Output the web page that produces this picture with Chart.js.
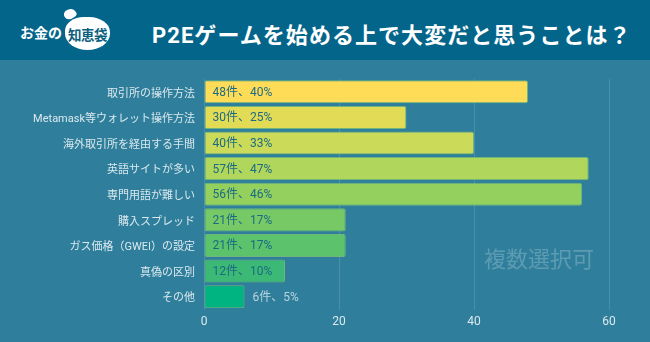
<!DOCTYPE html>
<html lang="ja">
<head>
<meta charset="utf-8">
<script src="https://cdn.jsdelivr.net/npm/chart.js@4"></script>
<style>
    body { margin: 0; width: 650px; height: 342px; overflow: hidden; background: #2f7f9c; font-family: "Roboto", "Noto Sans CJK JP", sans-serif; }
    #cabecalho { position: absolute; left: 0; top: 0; width: 650px; height: 60px; background: #03658a; }
    #logo { position: absolute; left: 20px; top: 22px; color: #fff; font-weight: bold; font-size: 14px; }
    #saco { position: absolute; left: 65px; top: 17px; width: 45px; height: 33px; background: #fff; border-radius: 42% 46% 50% 50%; }
    #saco span { position: absolute; left: 0; top: 7px; width: 45px; text-align: center; color: #0b5f7e; font-weight: bold; font-size: 13.5px; letter-spacing: -0.5px; }
    #laco { position: absolute; left: 64px; top: 9px; width: 12px; height: 10px; background: #fff; border-radius: 40% 60% 30% 50%; transform: rotate(-35deg); }
    #titulo { position: absolute; left: 152px; top: 17px; color: #fff; font-weight: bold; font-size: 22px; letter-spacing: 1.05px; white-space: nowrap; }
    #grafico { position: absolute; left: 0; top: 60px; width: 650px; height: 282px; }
    #marca { position: absolute; left: 484px; top: 241px; color: rgba(255,255,255,0.22); font-size: 22px; white-space: nowrap; }
</style>
</head>
<body>
<div id="cabecalho">
    <div id="logo">お金の</div>
    <div id="laco"></div>
    <div id="saco"><span>知恵袋</span></div>
    <div id="titulo">P2Eゲームを始める上で大変だと思うことは？</div>
</div>
<div id="grafico"><canvas id="myChart"></canvas></div>
<div id="marca">複数選択可</div>

<script>
const categorias = ['取引所の操作方法', 'Metamask等ウォレット操作方法', '海外取引所を経由する手間', '英語サイトが多い',
    '専門用語が難しい', '購入スプレッド', 'ガス価格（GWEI）の設定', '真偽の区別', 'その他'];
const quantidades = [48, 30, 40, 57, 56, 21, 21, 12, 6];
const porcentagens = [40, 25, 33, 47, 46, 17, 17, 10, 5];
const ticksX = [0, 20, 40, 60];

const cores = ['#ffdc58', '#e2db56', '#cbda58', '#b0d65b', '#93d05e', '#76c965', '#5cc26b', '#3cb974', '#00b482'];

// escreve "N件、P%" dentro da barra, ou fora quando não cabe
const rotulos = {
    id: 'rotulos',
    afterDatasetsDraw(chart) {
        const ctx = chart.ctx;
        const meta = chart.getDatasetMeta(0);
        ctx.save();
        ctx.font = '12px Roboto, "Noto Sans CJK JP"';
        ctx.textBaseline = 'middle';
        ctx.textAlign = 'left';
        meta.data.forEach((barra, i) => {
            let texto = quantidades[i] + '件、' + porcentagens[i] + '%';
            let largura = ctx.measureText(texto).width;
            if (largura + 16 < barra.x - barra.base) {
                ctx.fillStyle = '#1c6a85';
                ctx.fillText(texto, barra.base + 8, barra.y + 1);
            } else {
                ctx.fillStyle = 'rgba(225,238,243,0.75)';
                ctx.fillText(texto, barra.x + 8, barra.y + 1);
            }
        });
        ctx.restore();
    }
};

const ctx1 = document.getElementById('myChart');

new Chart(ctx1, {
    type: 'bar',
    data: {
        labels: categorias,
        datasets: [
            {
                data: quantidades,
                backgroundColor: cores,
                borderColor: 'rgba(140,205,110,0.7)',
                borderWidth: 1,
                borderRadius: 2,
                borderSkipped: false,
                barPercentage: 0.9,
                categoryPercentage: 1
            }
        ]
    },
    options: {
        indexAxis: 'y',
        responsive: true,
        maintainAspectRatio: false,
        animation: false,
        layout: { padding: { top: 19, right: 41, left: 0, bottom: 0 } },
        plugins: { legend: { display: false }, tooltip: { enabled: false } },
        scales: {
            x: {
                min: 0,
                max: 60,
                afterBuildTicks: (scale) => { scale.ticks = ticksX.map(v => ({ value: v })); },
                afterFit: (scale) => { scale.height = 32.5; },
                grid: { color: 'rgba(255,255,255,0.13)', drawTicks: false },
                border: { display: false },
                ticks: { color: '#dbe9ee', padding: 5, font: { size: 12, family: 'Roboto' } }
            },
            y: {
                afterFit: (scale) => { scale.width = 204; },
                grid: { display: false, drawTicks: false },
                border: { display: false },
                ticks: { color: '#dbe9ee', padding: 9, labelOffset: 2, font: { size: 11, family: 'Roboto, "Noto Sans CJK JP"' } }
            }
        }
    },
    plugins: [rotulos]
});
</script>
</body>
</html>
